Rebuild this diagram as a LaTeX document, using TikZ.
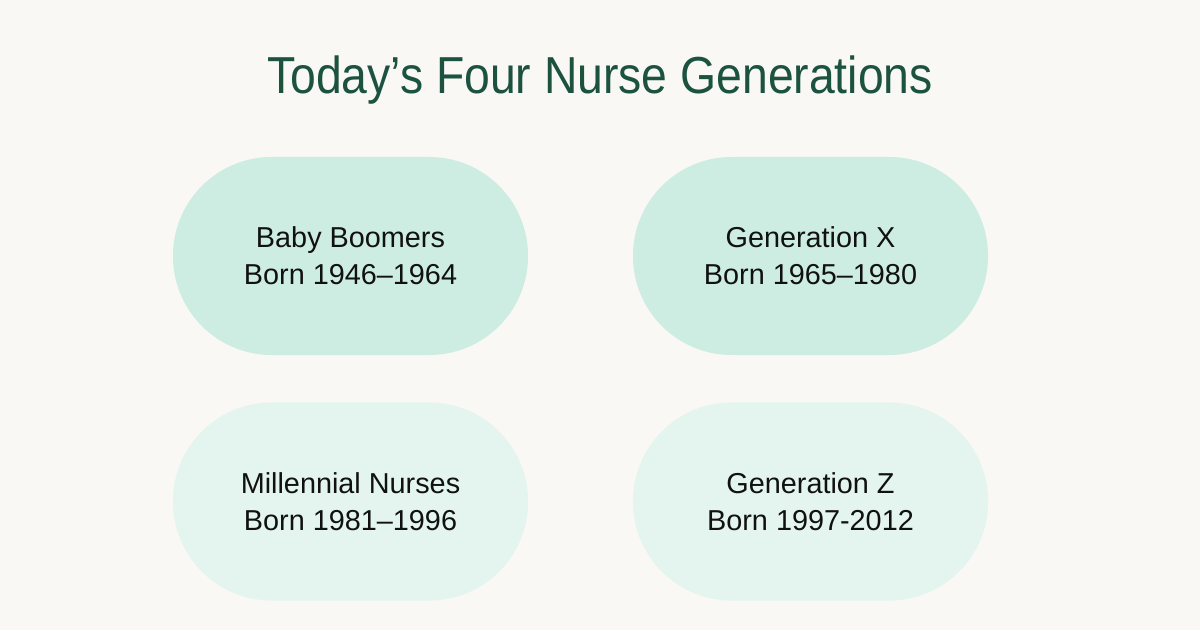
\documentclass[tikz,border=0pt]{standalone}
\usepackage{fontspec}
\setmainfont{Liberation Sans}
\usepackage{xcolor}
\definecolor{bgcol}{HTML}{F9F8F5}
\definecolor{titlegreen}{HTML}{1B5240}
\definecolor{pilldark}{HTML}{CDEDE2}
\definecolor{pilllight}{HTML}{E3F5EE}
\definecolor{inkcol}{HTML}{111111}

\begin{document}
\begin{tikzpicture}[x=0.025cm,y=-0.025cm,
  pill/.style={rounded corners=2.47cm, minimum width=8.875cm, minimum height=4.95cm,
    inner sep=0pt, align=center, text=inkcol,
    font=\fontsize{20.5}{26.5}\selectfont},
  pilltop/.style={pill, fill=pilldark},
  pillbot/.style={pill, fill=pilllight}]
\fill[bgcol] (0,0) rectangle (1200,630);
\useasboundingbox (0,0) rectangle (1200,630);

\node[text=titlegreen, font=\fontsize{37}{40}\selectfont] (title) at (600,80)
  {\scalebox{0.89}[1]{Today’s Four Nurse Generations}};

\node[pilltop] (boomers) at (350.5,256)   {Baby Boomers\\Born 1946–1964};
\node[pilltop] (genx)    at (810.5,256)   {Generation X\\Born 1965–1980};
\node[pillbot] (millen)  at (350.5,501.5) {Millennial Nurses\\Born 1981–1996};
\node[pillbot] (genz)    at (810.5,501.5) {Generation Z\\Born 1997-2012};

\end{tikzpicture}
\end{document}
